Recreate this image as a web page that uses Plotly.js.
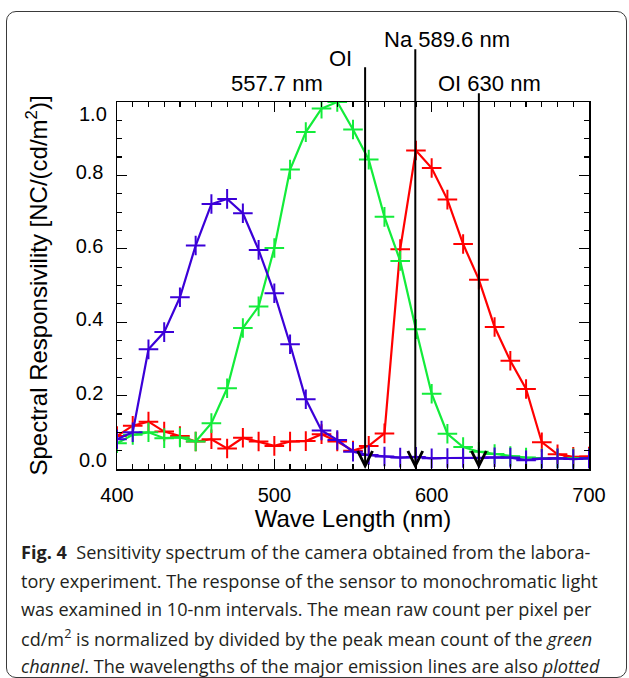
<!DOCTYPE html>
<html>
<head>
<meta charset="utf-8">
<script src="https://cdn.plot.ly/plotly-3.0.1.min.js"></script>
<style>
  html, body { margin: 0; padding: 0; background: #fff; }
  #wrap { position: relative; width: 629px; height: 678px; overflow: hidden; }
  #chart { position: absolute; left: 0; top: 0; width: 629px; height: 678px; }
  #frame { position: absolute; left: 6px; top: 11px; width: 619px; height: 665px;
           border: 1px solid #3a3a3a; border-radius: 10px; pointer-events: none; }
</style>
</head>
<body>
<div id="wrap">
  <div id="chart"></div>
  <div id="frame"></div>
</div>
<script>
// Wavelength grid (nm)
const wavelengths = [400,410,420,430,440,450,460,470,480,490,500,510,520,530,540,550,
                     560,570,580,590,600,610,620,630,640,650,660,670,680,690,700];
// Normalized spectral responsivity per channel
const redChannel   = [0.090,0.118,0.129,0.102,0.090,0.075,0.081,0.056,0.085,0.075,0.063,
                      0.075,0.076,0.095,0.075,0.050,0.063,0.097,0.599,0.868,0.820,0.734,
                      0.613,0.516,0.387,0.295,0.218,0.073,0.040,0.033,0.034];
const greenChannel = [0.070,0.093,0.100,0.084,0.086,0.075,0.125,0.220,0.384,0.443,0.602,
                      0.816,0.918,0.982,1.000,0.925,0.843,0.687,0.567,0.381,0.205,0.096,
                      0.060,0.047,0.041,0.035,0.031,0.029,0.029,0.029,0.029];
const blueChannel  = [0.081,0.100,0.326,0.373,0.468,0.609,0.722,0.736,0.697,0.597,0.479,
                      0.340,0.190,0.105,0.079,0.047,0.038,0.034,0.031,0.033,0.029,0.030,
                      0.030,0.030,0.032,0.031,0.024,0.028,0.029,0.027,0.029];
// Emission lines (nm)
const emissionLines  = [557.7, 589.6, 630.0];
const xTickVals = [400, 500, 600, 700];
const yTickVals = [0.0, 0.2, 0.4, 0.6, 0.8, 1.0];
const yTickText = ['0.0', '0.2', '0.4', '0.6', '0.8', '1.0'];
const emissionLabels = ['557.7 nm', 'OI', 'Na 589.6 nm', 'OI 630 nm'];
const captionLines = [
  '<b>Fig. 4</b>  Sensitivity spectrum of the camera obtained from the labora-',
  'tory experiment. The response of the sensor to monochromatic light',
  'was examined in 10-nm intervals. The mean raw count per pixel per',
  'cd/m<sup>2</sup> is normalized by divided by the peak mean count of the <i>green</i>',
  '<i>channel</i>. The wavelengths of the major emission lines are also <i>plotted</i>'
];

const chartFont = "'Liberation Sans', Arial, Helvetica, sans-serif";
const capFont = "'Open Sans', 'Noto Sans', sans-serif";

function series(y, color) {
  return {
    x: wavelengths, y: y, type: 'scatter', mode: 'lines+markers',
    line: { color: color, width: 2.2 },
    marker: { symbol: 'cross-thin-open', size: 14, color: color, line: { color: color, width: 2 } },
    showlegend: false, hoverinfo: 'skip'
  };
}
const data = [
  series(redChannel, '#ff0000'),
  series(greenChannel, '#13ec3a'),
  series(blueChannel, '#3b00d8')
];

const W = 629, H = 678, mL = 117, mR = 40, mT = 102, mB = 209;
const pw = W - mL - mR, ph = H - mT - mB;
const px2x = p => (p - mL) / pw;
const py2y = p => (H - mB - p) / ph;

const lineTops = [1.099, 1.148, 1.028];
const annotations = [];
emissionLines.forEach((wl, i) => {
  annotations.push({
    x: wl, y: 0, xref: 'x', yref: 'y', ax: wl, ay: lineTops[i], axref: 'x', ayref: 'y',
    text: '', showarrow: true, arrowhead: 5, arrowsize: 1.45, arrowwidth: 2, arrowcolor: '#000'
  });
});
const labelPos = [[277, 83], [340, 58], [447, 40], [489, 83]];
emissionLabels.forEach((t, i) => {
  annotations.push({
    text: t, xref: 'paper', yref: 'paper', x: px2x(labelPos[i][0]), y: py2y(labelPos[i][1]),
    xanchor: 'center', yanchor: 'middle', showarrow: false,
    font: { family: chartFont, size: 22, color: '#000' }
  });
});
const capY = [552, 580.5, 609, 637.5, 666];
captionLines.forEach((t, i) => {
  annotations.push({
    text: t, xref: 'paper', yref: 'paper', x: px2x(19), y: py2y(capY[i]),
    xanchor: 'left', yanchor: 'middle', showarrow: false, align: 'left',
    font: { family: capFont, size: 18.1, color: '#231f20' }
  });
});
// End labels of y axis (drawn slightly inside, as in the original)
annotations.push({ text: yTickText[5], xref: 'paper', yref: 'y', x: 0, y: yTickVals[5], xanchor: 'right',
  yanchor: 'middle', xshift: -8, yshift: -12, showarrow: false, font: { family: chartFont, size: 20, color: '#000' } });
annotations.push({ text: yTickText[0], xref: 'paper', yref: 'y', x: 0, y: yTickVals[0], xanchor: 'right',
  yanchor: 'middle', xshift: -8, yshift: 9, showarrow: false, font: { family: chartFont, size: 20, color: '#000' } });

const layout = {
  width: W, height: H,
  margin: { l: mL, r: mR, t: mT, b: mB, pad: 0 },
  paper_bgcolor: '#fff', plot_bgcolor: '#fff',
  font: { family: chartFont, size: 20, color: '#000' },
  xaxis: {
    range: [400, 700], tickmode: 'array', tickvals: xTickVals, ticktext: xTickVals.map(String),
    ticks: 'inside', ticklen: 10, tickwidth: 1.2, tickcolor: '#000',
    minor: { tickmode: 'linear', tick0: 400, dtick: 10, ticks: 'inside', ticklen: 5, tickwidth: 1.2, tickcolor: '#000' },
    showline: true, linecolor: '#000', linewidth: 1.5, mirror: 'ticks',
    showgrid: false, zeroline: false, ticklabelstandoff: 7,
    tickfont: { family: chartFont, size: 20, color: '#000' },
    title: { text: 'Wave Length (nm)', font: { family: chartFont, size: 24, color: '#000' }, standoff: 5 }
  },
  yaxis: {
    range: [0, 1.0], tickmode: 'array', tickvals: yTickVals, ticktext: ['', '0.2', '0.4', '0.6', '0.8', ''],
    ticks: 'inside', ticklen: 10, tickwidth: 1.2, tickcolor: '#000',
    minor: { tickmode: 'linear', tick0: 0, dtick: 0.05, ticks: 'inside', ticklen: 5, tickwidth: 1.2, tickcolor: '#000' },
    showline: true, linecolor: '#000', linewidth: 1.5, mirror: 'ticks',
    showgrid: false, zeroline: false, ticklabelstandoff: 8, ticklabelshift: -3,
    tickfont: { family: chartFont, size: 20, color: '#000' },
    title: { text: 'Spectral Responsivility [NC/(cd/m<sup>2</sup>)]', font: { family: chartFont, size: 24, color: '#000' }, standoff: 21 }
  },
  annotations: annotations
};

Plotly.newPlot('chart', data, layout, { staticPlot: true, displayModeBar: false });
</script>
</body>
</html>
